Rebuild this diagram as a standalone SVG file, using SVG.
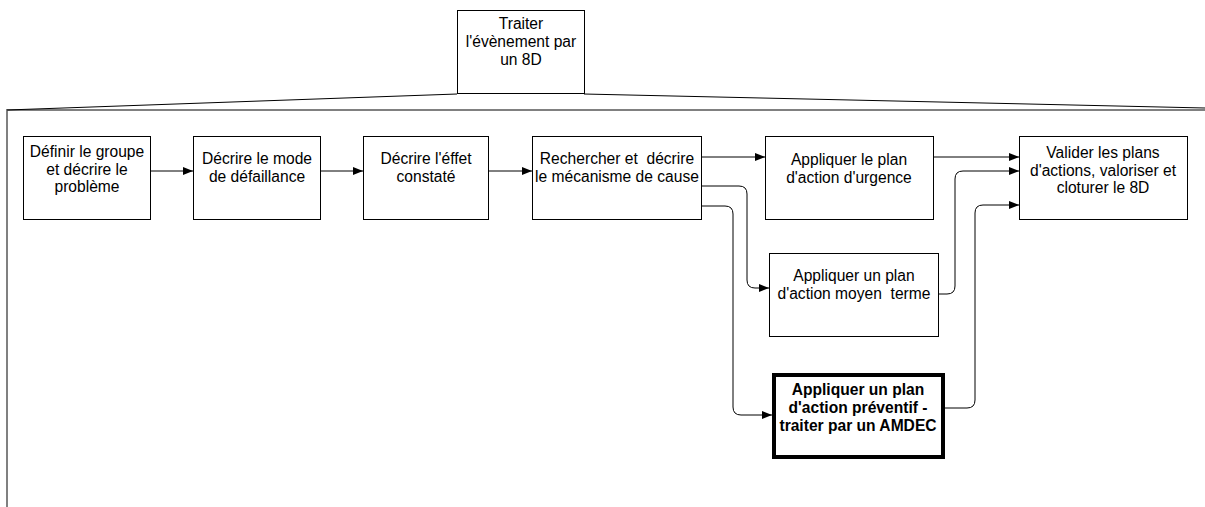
<svg xmlns="http://www.w3.org/2000/svg" width="1205" height="507" viewBox="0 0 1205 507">
<style>
.box{fill:#fff;stroke:#000;stroke-width:1}
.bold{fill:#fff;stroke:#000;stroke-width:4}
.t{font-family:"Liberation Sans",Arial,sans-serif;font-size:15.6px;fill:#000;text-anchor:middle;white-space:pre}
.tb{font-weight:bold}
.c{fill:none;stroke:#000;stroke-width:1}
.frame{fill:none;stroke:#808080;stroke-width:2}
</style>
<defs>
<marker id="ah" markerUnits="userSpaceOnUse" markerWidth="11" markerHeight="10" refX="10" refY="4.5" orient="auto">
<path d="M0,0.5 L10,4.5 L0,8.5 Z" fill="#000"/>
</marker>
</defs>
<rect width="1205" height="507" fill="#fff"/>
<g id="frame">
<path class="frame" d="M7,507 V110 H1205"/>
<path class="c" d="M457,94 L7,110 M584,94 L1205,108"/>
</g>
<g id="n0"><rect class="box" x="457.5" y="10.5" width="127" height="83"/>
<text class="t" x="521" y="29">Traiter</text><text class="t" x="521" y="47">l'évènement par</text><text class="t" x="521" y="65">un 8D</text></g>
<g id="n1"><rect class="box" x="23.5" y="136.5" width="127" height="83"/>
<text class="t" x="87" y="157">Définir le groupe</text><text class="t" x="87" y="174.5">et décrire le</text><text class="t" x="87" y="192">problème</text></g>
<g id="n2"><rect class="box" x="193.5" y="136.5" width="127" height="83"/>
<text class="t" x="257" y="164">Décrire le mode</text><text class="t" x="257" y="181.5">de défaillance</text></g>
<g id="n3"><rect class="box" x="363.5" y="136.5" width="125" height="83"/>
<text class="t" x="426" y="164">Décrire l'éffet</text><text class="t" x="426" y="181.5">constaté</text></g>
<g id="n4"><rect class="box" x="532.5" y="136.5" width="169" height="83"/>
<text class="t" x="617" y="164">Rechercher et  décrire</text><text class="t" x="617" y="181.5">le mécanisme de cause</text></g>
<g id="n5"><rect class="box" x="765.5" y="136.5" width="168" height="83"/>
<text class="t" x="849" y="165">Appliquer le plan</text><text class="t" x="849" y="182.5">d'action d'urgence</text></g>
<g id="n6"><rect class="box" x="1019.5" y="136.5" width="168" height="83"/>
<text class="t" x="1103" y="158">Valider les plans</text><text class="t" x="1103" y="175.5">d'actions, valoriser et</text><text class="t" x="1103" y="193">cloturer le 8D</text></g>
<g id="n7"><rect class="box" x="769.5" y="253.5" width="169" height="83"/>
<text class="t" x="854" y="281">Appliquer un plan</text><text class="t" x="854" y="298.5">d'action moyen  terme</text></g>
<g id="n8"><rect class="bold" x="774" y="375" width="169" height="82"/>
<text class="t tb" x="858" y="395">Appliquer un plan</text><text class="t tb" x="858" y="413">d'action préventif -</text><text class="t tb" x="858" y="431">traiter par un AMDEC</text></g>
<g id="connectors">
<path class="c" marker-end="url(#ah)" d="M151,171 H193"/>
<path class="c" marker-end="url(#ah)" d="M321,171 H363"/>
<path class="c" marker-end="url(#ah)" d="M489,171 H532"/>
<path class="c" marker-end="url(#ah)" d="M702,157 H765"/>
<path class="c" marker-end="url(#ah)" d="M702,186 H739 Q747,186 747,194 V280 Q747,288 755,288 H769"/>
<path class="c" marker-end="url(#ah)" d="M702,206 H725 Q733,206 733,214 V407 Q733,415 741,415 H772"/>
<path class="c" marker-end="url(#ah)" d="M934,157 H1019"/>
<path class="c" marker-end="url(#ah)" d="M939,294 H947 Q955,294 955,286 V179 Q955,171 963,171 H1019"/>
<path class="c" marker-end="url(#ah)" d="M945,408 H967 Q975,408 975,400 V213 Q975,205 983,205 H1019"/>
</g>
</svg>
